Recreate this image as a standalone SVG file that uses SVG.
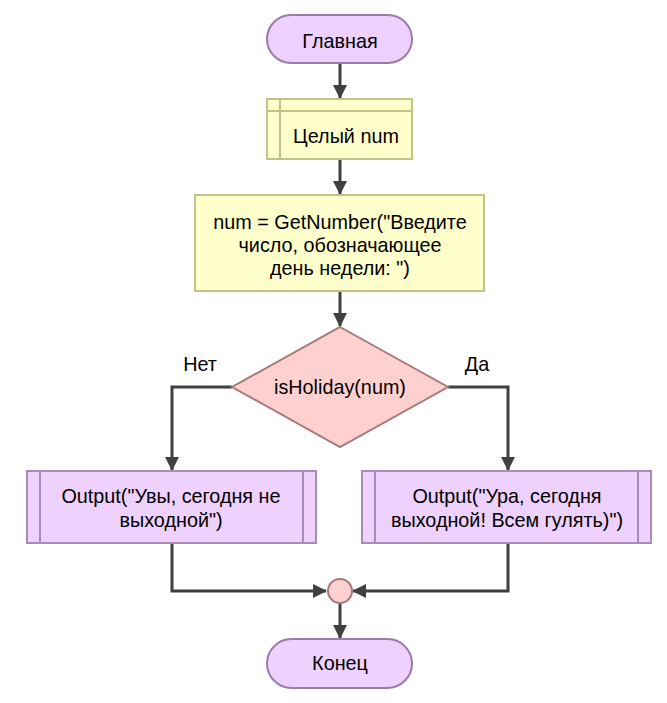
<svg xmlns="http://www.w3.org/2000/svg" width="667" height="703" viewBox="0 0 667 703">
<style>
.t{font-family:"Liberation Sans",Arial,sans-serif;font-size:19.8px;fill:#000;text-anchor:middle}
.term{fill:#EED1FE;stroke:#9B7BA7;stroke-width:2}
.proc{fill:#FFFFCC;stroke:#C2C28A;stroke-width:2}
.out{fill:#EED1FE;stroke:#A98BB4;stroke-width:2}
.cond{fill:#FFD0D0;stroke:#A97A7A;stroke-width:2}
.c{fill:none;stroke:#404040;stroke-width:3}
</style>
<defs>
<marker id="ah" markerUnits="userSpaceOnUse" markerWidth="14" markerHeight="14" viewBox="0 0 14 14" refX="13" refY="7" orient="auto">
<path d="M0,0 L14,7 L0,14 Z" fill="#404040"/>
</marker>
</defs>
<g id="connectors">
<line class="c" x1="340" y1="63" x2="340" y2="98" marker-end="url(#ah)"/>
<line class="c" x1="340" y1="159" x2="340" y2="194" marker-end="url(#ah)"/>
<line class="c" x1="340" y1="291" x2="340" y2="326" marker-end="url(#ah)"/>
<polyline class="c" points="232,387 172,387 172,470" marker-end="url(#ah)"/>
<polyline class="c" points="448,387 508,387 508,470" marker-end="url(#ah)"/>
<polyline class="c" points="172,543 172,591 326,591" marker-end="url(#ah)"/>
<polyline class="c" points="508,543 508,591 353,591" marker-end="url(#ah)"/>
<line class="c" x1="340" y1="604" x2="340" y2="638" marker-end="url(#ah)"/>
<text class="t" x="200" y="371">Нет</text>
<text class="t" x="477" y="371">Да</text>
</g>
<g id="start">
<rect class="term" x="267" y="15" width="145" height="48" rx="24"/>
<text class="t" x="340" y="48">Главная</text>
</g>
<g id="decl">
<rect class="proc" x="267" y="99" width="145" height="60"/>
<line class="proc" x1="267" y1="111" x2="412" y2="111"/>
<line class="proc" x1="280" y1="99" x2="280" y2="159"/>
<text class="t" x="346" y="143">Целый num</text>
</g>
<g id="assign">
<rect class="proc" x="195" y="195" width="289" height="96"/>
<text class="t" x="340" y="229">num = GetNumber("Введите</text>
<text class="t" x="340" y="252">число, обозначающее</text>
<text class="t" x="340" y="275">день недели: ")</text>
</g>
<g id="cond">
<polygon class="cond" points="340,327 448,387 340,447 232,387"/>
<text class="t" x="340" y="394">isHoliday(num)</text>
</g>
<g id="outNo">
<rect class="out" x="27" y="471" width="289" height="72"/>
<line class="out" x1="40" y1="471" x2="40" y2="543"/>
<line class="out" x1="303" y1="471" x2="303" y2="543"/>
<text class="t" x="171" y="503">Output("Увы, сегодня не</text>
<text class="t" x="171" y="527">выходной")</text>
</g>
<g id="outYes">
<rect class="out" x="362" y="471" width="289" height="72"/>
<line class="out" x1="375" y1="471" x2="375" y2="543"/>
<line class="out" x1="638" y1="471" x2="638" y2="543"/>
<text class="t" x="507" y="503">Output("Ура, сегодня</text>
<text class="t" x="507" y="527">выходной! Всем гулять)")</text>
</g>
<g id="join">
<circle class="cond" cx="340" cy="591" r="12"/>
</g>
<g id="end">
<rect class="term" x="267" y="639" width="145" height="49" rx="24.5"/>
<text class="t" x="340" y="670">Конец</text>
</g>
</svg>
